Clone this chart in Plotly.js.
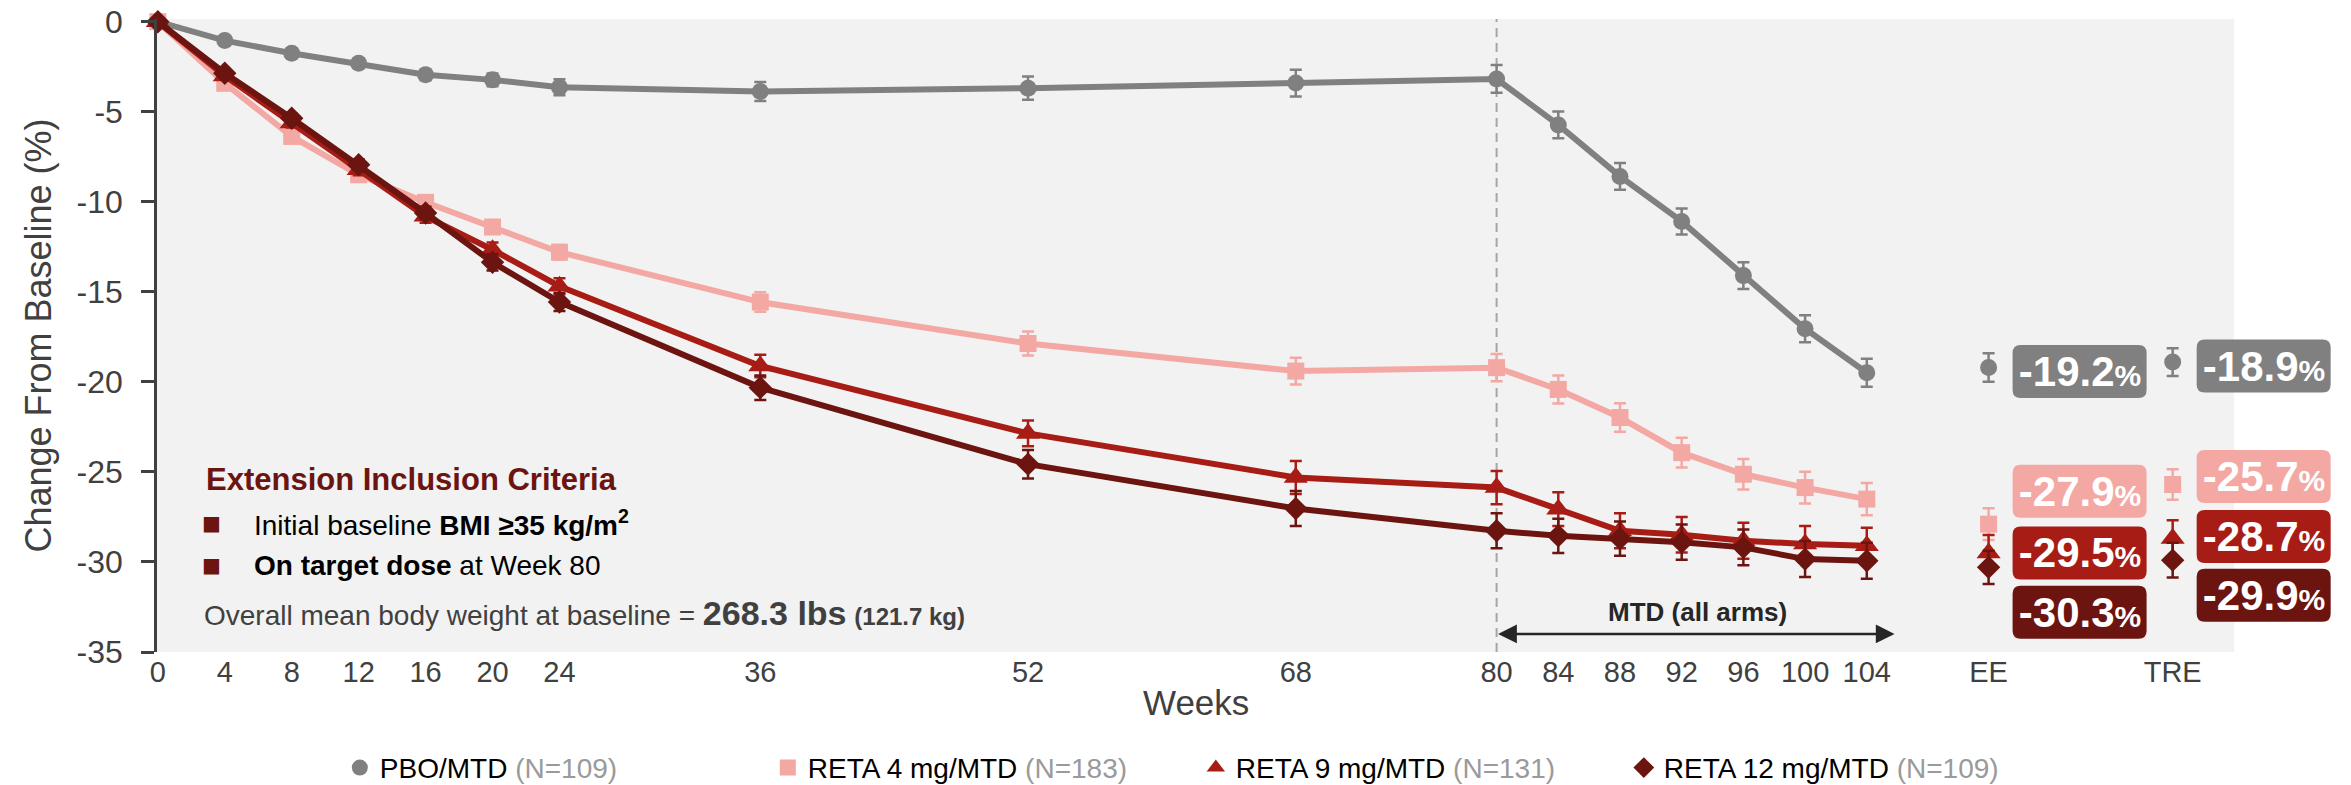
<!DOCTYPE html>
<html><head><meta charset="utf-8">
<script src="https://cdn.plot.ly/plotly-3.0.1.min.js"></script>
<style>html,body{margin:0;padding:0;background:#fff;} #chart{width:2351px;height:785px;}</style>
</head><body><div id="chart"></div>
<script>
// ---------------- DATA ----------------
const weeks = [0, 4, 8, 12, 16, 20, 24, 36, 52, 68, 80, 84, 88, 92, 96, 100, 104];
const tickWeeks = [0, 4, 8, 12, 16, 20, 24, 36, 52, 68, 80, 84, 88, 92, 96, 100, 104];
const extCats = ['EE', 'TRE'];
const yTicks = [0, -5, -10, -15, -20, -25, -30, -35];
const yTickText = ['0', '-5', '-10', '-15', '-20', '-25', '-30', '-35'];

const seriesNames = ['PBO/MTD', 'RETA 4 mg/MTD', 'RETA 9 mg/MTD', 'RETA 12 mg/MTD'];
const seriesN = ['(N=109)', '(N=183)', '(N=131)', '(N=109)'];

const pbo    = [0, -1.05, -1.75, -2.31, -2.95, -3.23, -3.64, -3.88, -3.69, -3.41, -3.18, -5.73, -8.59, -11.09, -14.10, -17.05, -19.49];
const pboSE  = [0, 0.15, 0.20, 0.25, 0.30, 0.35, 0.45, 0.53, 0.65, 0.74, 0.77, 0.74, 0.74, 0.72, 0.74, 0.75, 0.78];
const reta4  = [0, -3.42, -6.37, -8.50, -10.03, -11.40, -12.80, -15.57, -17.87, -19.40, -19.21, -20.42, -21.98, -23.93, -25.13, -25.87, -26.51];
const reta4SE= [0, 0.15, 0.20, 0.25, 0.30, 0.35, 0.40, 0.54, 0.67, 0.74, 0.76, 0.78, 0.79, 0.83, 0.85, 0.88, 0.90];
const reta9  = [0, -3.01, -5.63, -8.22, -10.81, -12.66, -14.69, -19.12, -22.86, -25.31, -25.87, -27.07, -28.27, -28.49, -28.82, -29.00, -29.10];
const reta9SE= [0, 0.20, 0.25, 0.30, 0.35, 0.40, 0.45, 0.62, 0.72, 0.91, 0.92, 0.94, 0.97, 0.99, 1.00, 0.99, 1.00];
const reta12 = [0, -2.86, -5.36, -7.94, -10.62, -13.36, -15.57, -20.32, -24.57, -27.03, -28.27, -28.55, -28.70, -28.90, -29.19, -29.84, -29.93];
const reta12SE=[0, 0.20, 0.25, 0.30, 0.35, 0.45, 0.50, 0.68, 0.79, 0.97, 0.97, 0.95, 0.95, 0.98, 0.99, 1.00, 1.00];

const pboExt     = [-19.2, -18.9];
const pboExtSE   = [0.79, 0.77];
const reta4Ext   = [-27.9, -25.7];
const reta4ExtSE = [0.88, 0.85];
const reta9Ext   = [-29.5, -28.7];
const reta9ExtSE = [1.00, 1.02];
const reta12Ext  = [-30.3, -29.9];
const reta12ExtSE= [0.92, 0.96];

// ---------------- LAYOUT / STYLE ----------------
const FONT = "'Liberation Sans', Arial, sans-serif";
const AFTER80 = 0.9217;                       // axis is compressed after week 80
function xpos(w) { return w <= 80 ? w : 80 + (w - 80) * AFTER80; }
const extPos = { EE: 109.4, TRE: 120.4 };
const BG_X = [-0.05, 124.07];                 // extent of the grey panel (axis units)
const X_RANGE = [-0.05, 130.16];
const colors = ['#808080', '#F4A8A4', '#A81C16', '#6C1410'];
const symbols = ['circle', 'square', 'triangle-up', 'diamond'];
const msizes = [17, 17, 21, 18];
// label box vertical offsets (px, positive = down) relative to point, per series, [EE, TRE]
const labelDown = [[4, 4], [-33, -8], [0, -2], [45, 35]];
const BOX = { dx: 91, hw: 67, hh: 26.5, r: 8 };

const vals = [pbo, reta4, reta9, reta12];
const ses = [pboSE, reta4SE, reta9SE, reta12SE];
const extVals = [pboExt, reta4Ext, reta9Ext, reta12Ext];
const extSes = [pboExtSE, reta4ExtSE, reta9ExtSE, reta12ExtSE];

const traces = [];
for (let i = 0; i < 4; i++) {
  traces.push({
    x: weeks.map(xpos), y: vals[i], type: 'scatter', mode: 'lines+markers',
    showlegend: false,
    line: { color: colors[i], width: 6 },
    marker: { symbol: symbols[i], size: msizes[i], color: colors[i] },
    error_y: { type: 'data', array: ses[i], visible: true, color: colors[i], thickness: 2.5, width: 6 },
    cliponaxis: false, hoverinfo: 'skip'
  });
}
for (let i = 0; i < 4; i++) {
  traces.push({
    x: extCats.map(k => extPos[k]), y: extVals[i], type: 'scatter', mode: 'markers',
    showlegend: false,
    marker: { symbol: symbols[i], size: msizes[i], color: colors[i] },
    error_y: { type: 'data', array: extSes[i], visible: true, color: colors[i], thickness: 2.5, width: 6 },
    cliponaxis: false, hoverinfo: 'skip'
  });
}
// legend entries (marker only)
for (let i = 0; i < 4; i++) {
  traces.push({
    x: [null], y: [null], type: 'scatter', mode: 'markers',
    name: seriesNames[i] + ' <span style="color:#9a9a9a">' + seriesN[i] + '</span>',
    marker: { symbol: symbols[i], size: 16, color: colors[i] }, hoverinfo: 'skip'
  });
}

function roundRect(cx, cy, hw, hh, r) {
  const L = cx - hw, R = cx + hw, T = cy + hh, B = cy - hh;
  return `M ${L + r} ${T} L ${R - r} ${T} Q ${R} ${T} ${R} ${T - r} L ${R} ${B + r} Q ${R} ${B} ${R - r} ${B} ` +
         `L ${L + r} ${B} Q ${L} ${B} ${L} ${B + r} L ${L} ${T - r} Q ${L} ${T} ${L + r} ${T} Z`;
}

const shapes = [
  { type: 'rect', xref: 'x', yref: 'paper', x0: BG_X[0], x1: BG_X[1], y0: 0, y1: 1,
    fillcolor: '#F2F2F2', line: { width: 0 }, layer: 'below' },
  { type: 'line', xref: 'x', yref: 'paper', x0: xpos(80), x1: xpos(80), y0: 0, y1: 1,
    line: { color: '#A6A6A6', width: 2, dash: '9px,6px' }, layer: 'below' }
];
const annotations = [];
for (let i = 0; i < 4; i++) {
  extCats.forEach((k, j) => {
    const v = extVals[i][j];
    shapes.push({
      type: 'path', xref: 'x', yref: 'y', xsizemode: 'pixel', ysizemode: 'pixel',
      xanchor: extPos[k], yanchor: v,
      path: roundRect(BOX.dx, -labelDown[i][j], BOX.hw, BOX.hh, BOX.r),
      fillcolor: colors[i], line: { width: 0 }, layer: 'above'
    });
    annotations.push({
      x: extPos[k], y: v, xref: 'x', yref: 'y', xshift: BOX.dx, yshift: -labelDown[i][j],
      text: '<b>' + v.toFixed(1) + '<span style="font-size:30px">%</span></b>',
      showarrow: false, width: 126, height: 45, borderpad: 4,
      font: { family: FONT, size: 42, color: '#ffffff' }, align: 'center', valign: 'middle'
    });
  });
}
// MTD arrow
annotations.push({
  x: xpos(105.8), y: -34.0, ax: xpos(80), ay: -34.0, xref: 'x', yref: 'y', axref: 'x', ayref: 'y',
  text: '', showarrow: true, arrowhead: 2, arrowside: 'end+start', arrowsize: 1.5, arrowwidth: 2.5,
  arrowcolor: '#262626', standoff: 0, startstandoff: 0
});
annotations.push({
  x: xpos(93), y: -32.8, xref: 'x', yref: 'y', showarrow: false,
  text: '<b>MTD (all arms)</b>', font: { family: FONT, size: 26, color: '#262626' }
});
// x-axis title, centred under the grey panel
annotations.push({
  x: (BG_X[0] + BG_X[1]) / 2, y: -0.079, xref: 'x', yref: 'paper', yanchor: 'middle', showarrow: false,
  text: 'Weeks', font: { family: FONT, size: 35, color: '#404040' }
});
// Inclusion criteria text block
annotations.push({
  x: 2.75, y: 0.272, xref: 'x', yref: 'paper', xanchor: 'left', yanchor: 'middle', showarrow: false,
  text: '<b>Extension Inclusion Criteria</b>', font: { family: FONT, size: 31, color: '#6C1410' }
});
annotations.push({
  x: 3.2, y: 0.204, xref: 'x', yref: 'paper', xanchor: 'center', yanchor: 'middle', showarrow: false,
  text: '■', font: { family: 'DejaVu Sans', size: 20, color: '#6C1410' }
});
annotations.push({
  x: 5.6, y: 0.204, xref: 'x', yref: 'paper', xanchor: 'left', yanchor: 'middle', showarrow: false,
  text: 'Initial baseline <b>BMI ≥35 kg/m<sup>2</sup></b>', font: { family: FONT, size: 28, color: '#000000' }
});
annotations.push({
  x: 3.2, y: 0.137, xref: 'x', yref: 'paper', xanchor: 'center', yanchor: 'middle', showarrow: false,
  text: '■', font: { family: 'DejaVu Sans', size: 20, color: '#6C1410' }
});
annotations.push({
  x: 5.6, y: 0.137, xref: 'x', yref: 'paper', xanchor: 'left', yanchor: 'middle', showarrow: false,
  text: '<b>On target dose</b> at Week 80', font: { family: FONT, size: 28, color: '#000000' }
});
annotations.push({
  x: 2.65, y: 0.062, xref: 'x', yref: 'paper', xanchor: 'left', yanchor: 'middle', showarrow: false,
  text: 'Overall mean body weight at baseline = <b><span style="font-size:34px">268.3 lbs</span></b> <b><span style="font-size:24px">(121.7 kg)</span></b>',
  font: { family: FONT, size: 28, color: '#404040' }
});

const layout = {
  width: 2351, height: 785,
  paper_bgcolor: '#ffffff', plot_bgcolor: '#ffffff',
  margin: { l: 157, r: 15, t: 19, b: 133, autoexpand: false },
  font: { family: FONT, color: '#404040' },
  showlegend: true,
  legend: {
    orientation: 'h', x: 0.0839, xanchor: 'left', y: -0.183, yanchor: 'middle',
    font: { family: FONT, size: 28, color: '#000000' }, entrywidth: 383, entrywidthmode: 'pixels',
    bgcolor: 'rgba(0,0,0,0)', traceorder: 'normal'
  },
  xaxis: {
    range: X_RANGE, showgrid: false, zeroline: false, showline: false, ticks: '',
    tickmode: 'array',
    tickvals: tickWeeks.map(xpos).concat(extCats.map(k => extPos[k])),
    ticktext: tickWeeks.map(String).concat(extCats),
    tickfont: { family: FONT, size: 29, color: '#404040' }
  },
  yaxis: {
    range: [-35, 0.15], showgrid: false, zeroline: false, showline: true, linecolor: '#404040', linewidth: 2.5,
    ticks: 'outside', ticklen: 13, tickwidth: 2.5, tickcolor: '#404040',
    tickmode: 'array', tickvals: yTicks, ticktext: yTickText, ticklabelstandoff: 12,
    tickfont: { family: FONT, size: 32, color: '#404040' },
    title: { text: 'Change From Baseline (%)', font: { family: FONT, size: 36, color: '#404040' }, standoff: 14 }
  },
  shapes: shapes,
  annotations: annotations
};

Plotly.newPlot('chart', traces, layout, { displayModeBar: false, responsive: false });
</script>
</body></html>
